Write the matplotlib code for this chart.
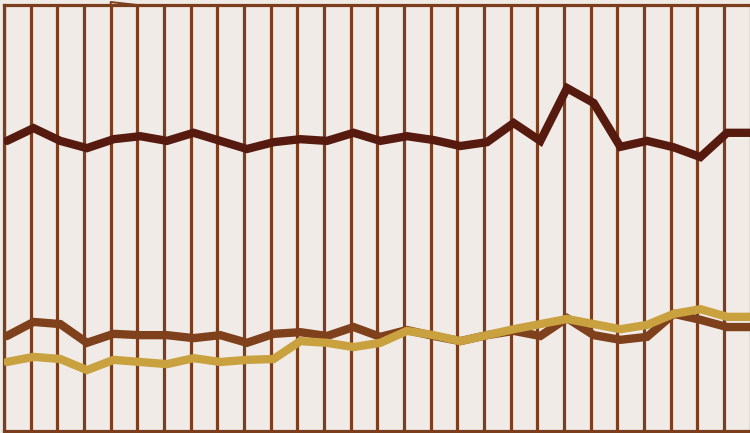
import numpy as np
import matplotlib
matplotlib.use("Agg")
import matplotlib.pyplot as plt

# series values (0-100 scale)
dark = [68.1, 71.1, 68.1, 66.4, 68.5, 69.2, 68.1, 70.0, 68.1, 66.2,
        67.8, 68.5, 68.1, 70.0, 68.1, 69.2, 68.3, 66.9, 67.8, 72.3,
        68.1, 80.5, 77.0, 66.7, 68.1, 66.6, 64.3, 70.0, 70.0]
medium = [22.3, 25.6, 25.1, 20.7, 22.8, 22.5, 22.5, 21.8, 22.5, 20.7,
          22.8, 23.2, 22.3, 24.4, 22.1, 23.7, 22.3, 21.1, 22.5, 23.5,
          22.3, 26.5, 22.5, 21.4, 22.1, 27.5, 26.1, 24.4, 24.4]
gold = [16.2, 17.4, 16.9, 14.3, 16.7, 16.2, 15.7, 17.1, 16.2, 16.7,
        16.9, 21.1, 20.7, 19.7, 20.7, 23.5, 22.5, 21.1, 22.5, 23.9,
        25.1, 26.3, 25.1, 23.9, 24.9, 27.5, 28.6, 26.8, 26.8]

x = np.arange(len(dark))

bg = "#f0ebe7"
grid_col = "#7b3f1e"

fig = plt.figure(figsize=(7.5, 4.33), dpi=100, facecolor=bg)
ax = fig.add_axes([4 / 750, 2 / 433, 746 / 750, 426 / 433])
ax.set_facecolor(bg)

# vertical grid lines, slightly left of each point
for gx in np.arange(len(dark)) - 0.11:
    ax.axvline(gx, color=grid_col, lw=2.3, zorder=1)

ax.plot(x, medium, color="#7f401c", lw=6, solid_capstyle="round",
        solid_joinstyle="miter", zorder=3)
ax.plot(x, gold, color="#c9a23f", lw=6, solid_capstyle="round",
        solid_joinstyle="miter", zorder=4)
ax.plot(x, dark, color="#561b0e", lw=6, solid_capstyle="round",
        solid_joinstyle="miter", zorder=5)

# small stray stroke at the top of the 5th grid line
ax.plot([3.89, 3.89, 4.89], [100, 100.7, 100], color=grid_col, lw=1.4,
        clip_on=False, zorder=6)

ax.set_xlim(-0.11, 27.86)
ax.set_ylim(0, 100)
ax.set_xticks([])
ax.set_yticks([])
for side in ["left", "top", "bottom"]:
    ax.spines[side].set_color(grid_col)
    ax.spines[side].set_linewidth(2.3)
ax.spines["right"].set_visible(False)

fig.savefig("out.png", dpi=100, facecolor=bg)
